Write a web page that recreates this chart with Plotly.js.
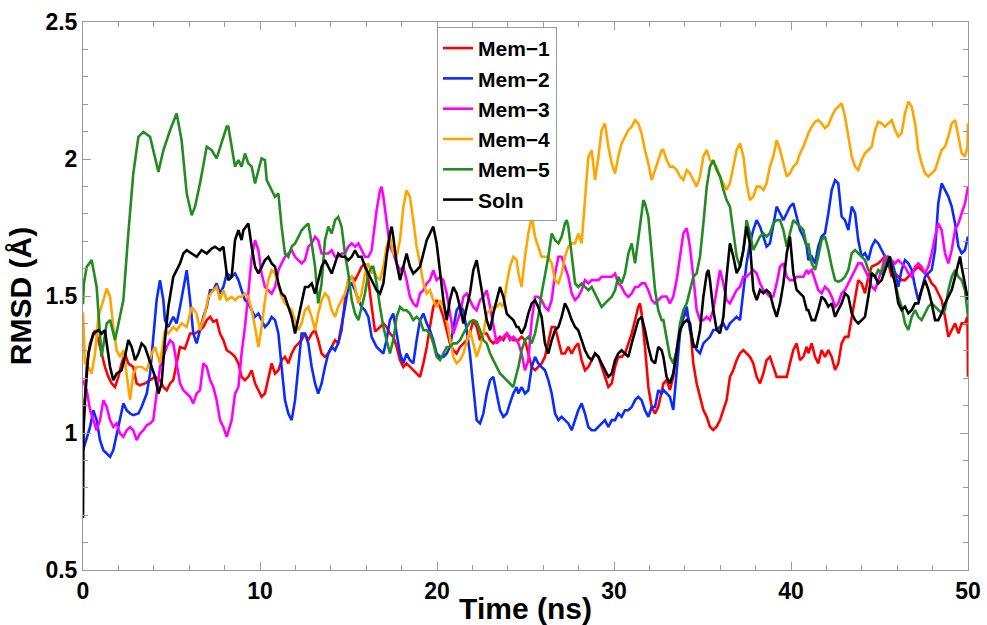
<!DOCTYPE html>
<html>
<head>
<meta charset="utf-8">
<script src="https://cdn.plot.ly/plotly-3.0.1.min.js"></script>
<style>html,body{margin:0;padding:0;background:#fff;}</style>
</head>
<body>
<div id="chart" style="width:987px;height:625px;"></div>
<script>
// [time (ns), RMSD (Å)] readings per simulation
const mem1 = [[0,0.998],[0.21,1.241],[0.40,1.327],[0.68,1.375],[0.87,1.339],[1.05,1.290],[1.24,1.241],[1.43,1.205],[1.62,1.181],[1.81,1.168],[2.00,1.205],[2.18,1.254],[2.37,1.290],[2.56,1.254],[2.84,1.241],[3.03,1.181],[3.22,1.174],[3.50,1.181],[3.79,1.193],[4.07,1.205],[4.35,1.193],[4.54,1.168],[4.73,1.156],[4.92,1.181],[5.10,1.193],[5.29,1.254],[5.48,1.314],[5.76,1.308],[6.05,1.363],[6.33,1.363],[6.61,1.375],[6.80,1.387],[6.99,1.412],[7.18,1.424],[7.36,1.406],[7.55,1.412],[7.74,1.363],[7.93,1.339],[8.12,1.302],[8.40,1.290],[8.59,1.278],[8.78,1.254],[8.96,1.205],[9.15,1.193],[9.34,1.205],[9.53,1.229],[9.72,1.181],[9.91,1.156],[10.09,1.132],[10.28,1.144],[10.47,1.205],[10.66,1.254],[10.85,1.217],[11.04,1.229],[11.22,1.266],[11.41,1.278],[11.60,1.254],[11.79,1.290],[11.98,1.314],[12.17,1.327],[12.35,1.339],[12.54,1.363],[12.73,1.339],[12.92,1.363],[13.11,1.375],[13.29,1.339],[13.48,1.290],[13.67,1.278],[13.86,1.290],[14.05,1.314],[14.24,1.339],[14.42,1.327],[14.61,1.375],[14.80,1.485],[14.99,1.558],[15.18,1.570],[15.37,1.558],[15.56,1.582],[15.74,1.607],[15.93,1.619],[16.12,1.560],[16.31,1.460],[16.50,1.370],[16.78,1.387],[16.97,1.400],[17.15,1.387],[17.34,1.363],[17.53,1.351],[17.72,1.314],[17.91,1.266],[18.10,1.241],[18.28,1.254],[18.47,1.241],[18.66,1.229],[18.85,1.217],[19.04,1.205],[19.23,1.254],[19.42,1.314],[19.60,1.387],[19.79,1.460],[19.98,1.485],[20.17,1.460],[20.36,1.424],[20.55,1.375],[20.73,1.327],[20.92,1.302],[21.11,1.290],[21.30,1.314],[21.49,1.327],[21.68,1.339],[21.86,1.363],[22.05,1.412],[22.24,1.387],[22.43,1.339],[22.62,1.363],[22.81,1.363],[23.00,1.339],[23.18,1.327],[23.37,1.339],[23.56,1.351],[23.75,1.339],[23.94,1.363],[24.12,1.351],[24.31,1.339],[24.50,1.339],[24.60,1.339],[24.78,1.351],[24.97,1.339],[25.16,1.290],[25.35,1.241],[25.54,1.229],[25.72,1.241],[25.91,1.254],[26.10,1.278],[26.29,1.339],[26.48,1.387],[26.67,1.387],[26.86,1.339],[27.04,1.290],[27.23,1.290],[27.42,1.314],[27.61,1.290],[27.80,1.314],[27.98,1.327],[28.17,1.266],[28.36,1.229],[28.55,1.241],[28.74,1.266],[28.93,1.290],[29.12,1.278],[29.30,1.241],[29.49,1.205],[29.68,1.168],[29.87,1.181],[30.06,1.241],[30.24,1.278],[30.43,1.278],[30.62,1.290],[30.81,1.327],[31.00,1.363],[31.19,1.412],[31.37,1.460],[31.47,1.473],[31.56,1.436],[31.75,1.314],[31.94,1.168],[32.13,1.095],[32.32,1.071],[32.50,1.095],[32.69,1.144],[32.79,1.180],[32.97,1.193],[33.16,1.157],[33.35,1.205],[33.54,1.303],[33.73,1.376],[33.92,1.424],[34.11,1.437],[34.29,1.400],[34.48,1.254],[34.67,1.181],[34.86,1.132],[35.05,1.084],[35.24,1.059],[35.42,1.023],[35.61,1.011],[35.80,1.023],[35.99,1.047],[36.18,1.084],[36.36,1.120],[36.55,1.205],[36.74,1.230],[36.93,1.266],[37.12,1.291],[37.31,1.303],[37.49,1.291],[37.68,1.278],[37.87,1.254],[38.06,1.205],[38.25,1.181],[38.44,1.218],[38.62,1.266],[38.81,1.278],[39.00,1.242],[39.19,1.205],[39.38,1.205],[39.57,1.205],[39.76,1.205],[39.94,1.254],[40.13,1.303],[40.32,1.327],[40.51,1.266],[40.70,1.278],[40.89,1.315],[40.98,1.291],[41.17,1.327],[41.36,1.278],[41.54,1.254],[41.73,1.303],[41.92,1.278],[42.11,1.303],[42.30,1.278],[42.49,1.230],[42.67,1.254],[42.86,1.327],[43.05,1.351],[43.24,1.351],[43.43,1.424],[43.62,1.498],[43.80,1.558],[43.99,1.546],[44.18,1.510],[44.37,1.570],[44.56,1.607],[44.75,1.613],[44.93,1.619],[45.12,1.631],[45.31,1.644],[45.50,1.619],[45.69,1.570],[45.88,1.583],[46.06,1.570],[46.25,1.558],[46.44,1.558],[46.63,1.570],[46.82,1.583],[47.01,1.595],[47.19,1.607],[47.38,1.595],[47.57,1.583],[47.76,1.570],[47.95,1.546],[48.14,1.534],[48.32,1.510],[48.51,1.485],[48.70,1.424],[48.89,1.351],[49.08,1.376],[49.27,1.400],[49.46,1.364],[49.64,1.400],[49.83,1.400],[49.97,1.424],[50,1.205]];

const mem2 = [[0,0.937],[0.21,0.986],[0.40,1.022],[0.58,1.083],[0.77,1.047],[0.96,0.974],[1.15,0.937],[1.34,0.925],[1.53,0.913],[1.71,0.937],[1.90,0.998],[2.09,1.047],[2.28,1.108],[2.47,1.083],[2.66,1.071],[2.84,1.065],[3.13,1.071],[3.31,1.095],[3.60,1.144],[3.79,1.217],[3.97,1.363],[4.16,1.485],[4.35,1.558],[4.54,1.485],[4.63,1.412],[4.82,1.387],[5.10,1.424],[5.29,1.400],[5.48,1.460],[5.67,1.533],[5.86,1.594],[6.05,1.485],[6.23,1.363],[6.42,1.327],[6.61,1.375],[6.80,1.424],[6.99,1.460],[7.18,1.521],[7.36,1.521],[7.55,1.546],[7.74,1.509],[7.93,1.533],[8.12,1.582],[8.40,1.570],[8.59,1.582],[8.78,1.558],[8.96,1.521],[9.15,1.485],[9.34,1.473],[9.53,1.448],[9.72,1.424],[9.91,1.436],[10.09,1.412],[10.28,1.387],[10.47,1.400],[10.66,1.424],[10.85,1.412],[11.04,1.363],[11.22,1.241],[11.41,1.120],[11.60,1.071],[11.79,1.047],[11.98,1.120],[12.17,1.254],[12.35,1.363],[12.54,1.363],[12.73,1.327],[12.92,1.241],[13.11,1.181],[13.29,1.144],[13.48,1.181],[13.67,1.241],[13.86,1.290],[14.05,1.314],[14.24,1.302],[14.42,1.327],[14.61,1.387],[14.80,1.460],[14.99,1.533],[15.18,1.546],[15.37,1.521],[15.56,1.485],[15.74,1.460],[15.93,1.448],[16.12,1.424],[16.31,1.350],[16.59,1.314],[16.78,1.302],[16.97,1.290],[17.15,1.339],[17.34,1.412],[17.53,1.436],[17.72,1.363],[17.91,1.290],[18.10,1.254],[18.28,1.290],[18.47,1.266],[18.66,1.254],[18.85,1.339],[19.04,1.412],[19.23,1.436],[19.42,1.400],[19.60,1.375],[19.79,1.339],[19.98,1.290],[20.17,1.278],[20.36,1.278],[20.55,1.290],[20.73,1.314],[20.92,1.387],[21.11,1.448],[21.30,1.467],[21.49,1.448],[21.68,1.375],[21.86,1.290],[22.05,1.168],[22.24,1.047],[22.43,1.035],[22.62,1.071],[22.81,1.144],[23.00,1.193],[23.18,1.205],[23.37,1.144],[23.56,1.083],[23.75,1.059],[23.94,1.071],[24.12,1.108],[24.31,1.144],[24.50,1.168],[24.60,1.144],[24.78,1.168],[24.97,1.144],[25.16,1.156],[25.35,1.241],[25.54,1.278],[25.72,1.254],[25.91,1.241],[26.10,1.229],[26.29,1.193],[26.48,1.144],[26.67,1.071],[26.86,1.047],[27.04,1.059],[27.23,1.047],[27.42,1.035],[27.61,1.010],[27.80,1.047],[27.98,1.083],[28.17,1.108],[28.36,1.071],[28.55,1.022],[28.74,1.010],[28.93,1.010],[29.12,1.022],[29.30,1.035],[29.49,1.047],[29.68,1.022],[29.87,1.047],[30.06,1.047],[30.24,1.071],[30.43,1.059],[30.62,1.083],[30.81,1.083],[31.00,1.095],[31.19,1.120],[31.37,1.132],[31.56,1.120],[31.75,1.083],[31.94,1.059],[32.13,1.095],[32.32,1.095],[32.50,1.156],[32.69,1.144],[32.79,1.157],[32.97,1.145],[33.16,1.132],[33.35,1.084],[33.54,1.218],[33.73,1.364],[33.92,1.424],[34.11,1.461],[34.29,1.376],[34.48,1.327],[34.67,1.303],[34.86,1.291],[35.05,1.327],[35.24,1.339],[35.42,1.351],[35.61,1.376],[35.80,1.376],[35.99,1.388],[36.18,1.400],[36.36,1.376],[36.55,1.400],[36.74,1.412],[36.93,1.424],[37.12,1.412],[37.31,1.522],[37.49,1.619],[37.68,1.692],[37.87,1.741],[38.06,1.777],[38.25,1.753],[38.44,1.717],[38.62,1.680],[38.81,1.692],[39.00,1.765],[39.19,1.826],[39.38,1.802],[39.57,1.777],[39.76,1.802],[39.94,1.826],[40.13,1.838],[40.32,1.790],[40.51,1.741],[40.70,1.717],[40.89,1.680],[40.98,1.631],[41.17,1.644],[41.36,1.619],[41.54,1.680],[41.73,1.717],[41.92,1.729],[42.11,1.802],[42.30,1.887],[42.49,1.923],[42.67,1.911],[42.86,1.790],[43.05,1.777],[43.24,1.741],[43.43,1.826],[43.62,1.802],[43.80,1.704],[43.99,1.644],[44.18,1.656],[44.37,1.631],[44.56,1.680],[44.75,1.704],[44.93,1.692],[45.12,1.668],[45.31,1.644],[45.50,1.607],[45.69,1.631],[45.88,1.583],[46.06,1.534],[46.25,1.595],[46.44,1.631],[46.63,1.619],[46.82,1.595],[47.01,1.534],[47.19,1.485],[47.38,1.522],[47.57,1.570],[47.76,1.583],[47.95,1.595],[48.14,1.668],[48.32,1.838],[48.51,1.911],[48.70,1.887],[48.89,1.863],[49.08,1.826],[49.27,1.765],[49.46,1.680],[49.64,1.656],[49.83,1.668],[50,1.717]];

const mem3 = [[0,1.193],[0.21,1.156],[0.40,1.083],[0.58,1.047],[0.77,1.010],[0.96,1.047],[1.15,1.120],[1.34,1.095],[1.53,1.047],[1.71,1.022],[1.90,1.035],[2.09,0.998],[2.28,0.986],[2.47,1.010],[2.66,1.022],[2.84,1.010],[3.03,0.974],[3.22,0.998],[3.41,1.010],[3.60,1.028],[3.79,1.035],[3.97,1.047],[4.16,1.156],[4.35,1.241],[4.54,1.278],[4.73,1.314],[4.92,1.339],[5.10,1.327],[5.29,1.254],[5.48,1.181],[5.67,1.156],[5.86,1.144],[6.05,1.132],[6.23,1.108],[6.42,1.144],[6.61,1.156],[6.80,1.254],[6.99,1.241],[7.18,1.193],[7.36,1.168],[7.55,1.120],[7.74,1.047],[7.93,1.022],[8.12,0.986],[8.40,1.047],[8.59,1.144],[8.78,1.168],[8.96,1.290],[9.15,1.387],[9.34,1.509],[9.53,1.643],[9.72,1.704],[9.91,1.667],[10.09,1.582],[10.28,1.533],[10.47,1.521],[10.66,1.509],[10.85,1.533],[11.04,1.594],[11.22,1.619],[11.41,1.643],[11.60,1.655],[11.79,1.667],[11.98,1.643],[12.17,1.631],[12.35,1.619],[12.54,1.631],[12.73,1.680],[12.92,1.692],[13.11,1.716],[13.29,1.704],[13.48,1.655],[13.67,1.655],[13.86,1.655],[14.05,1.667],[14.24,1.643],[14.42,1.643],[14.61,1.655],[14.80,1.655],[14.99,1.680],[15.18,1.692],[15.37,1.680],[15.56,1.692],[15.74,1.667],[15.93,1.643],[16.12,1.643],[16.31,1.667],[16.40,1.716],[16.59,1.813],[16.78,1.886],[16.87,1.899],[16.97,1.862],[17.15,1.777],[17.34,1.680],[17.53,1.655],[17.72,1.619],[17.91,1.594],[18.10,1.607],[18.28,1.558],[18.47,1.497],[18.66,1.473],[18.85,1.460],[19.04,1.509],[19.23,1.521],[19.42,1.546],[19.60,1.558],[19.79,1.594],[19.98,1.558],[20.17,1.570],[20.36,1.558],[20.55,1.509],[20.73,1.436],[20.92,1.363],[21.11,1.400],[21.30,1.436],[21.49,1.497],[21.68,1.509],[21.86,1.485],[22.05,1.460],[22.24,1.448],[22.43,1.485],[22.62,1.497],[22.81,1.521],[23.00,1.460],[23.18,1.387],[23.37,1.327],[23.56,1.339],[23.75,1.351],[23.94,1.363],[24.12,1.339],[24.31,1.351],[24.50,1.339],[24.60,1.327],[24.78,1.290],[24.97,1.229],[25.16,1.266],[25.35,1.412],[25.54,1.497],[25.72,1.497],[25.91,1.485],[26.10,1.460],[26.29,1.448],[26.48,1.485],[26.67,1.582],[26.86,1.643],[27.04,1.643],[27.23,1.607],[27.42,1.570],[27.61,1.509],[27.80,1.485],[27.98,1.497],[28.17,1.521],[28.36,1.558],[28.55,1.546],[28.74,1.558],[28.93,1.558],[29.12,1.558],[29.30,1.570],[29.49,1.570],[29.68,1.570],[29.87,1.570],[30.06,1.582],[30.24,1.546],[30.43,1.533],[30.62,1.509],[30.81,1.497],[31.00,1.509],[31.19,1.533],[31.37,1.533],[31.56,1.546],[31.75,1.546],[31.94,1.521],[32.13,1.485],[32.32,1.473],[32.50,1.485],[32.69,1.497],[32.79,1.498],[32.97,1.498],[33.16,1.473],[33.35,1.498],[33.54,1.558],[33.73,1.644],[33.92,1.729],[34.11,1.747],[34.29,1.680],[34.48,1.570],[34.67,1.449],[34.86,1.412],[35.05,1.412],[35.24,1.424],[35.42,1.412],[35.61,1.449],[35.80,1.522],[35.99,1.595],[36.18,1.546],[36.36,1.485],[36.55,1.473],[36.74,1.498],[36.93,1.522],[37.12,1.534],[37.31,1.570],[37.49,1.570],[37.68,1.583],[37.87,1.595],[38.06,1.583],[38.25,1.546],[38.44,1.522],[38.62,1.510],[38.81,1.498],[39.00,1.498],[39.19,1.546],[39.38,1.607],[39.57,1.619],[39.76,1.570],[39.94,1.558],[40.13,1.558],[40.32,1.570],[40.51,1.570],[40.70,1.570],[40.89,1.595],[40.98,1.583],[41.17,1.595],[41.36,1.558],[41.54,1.522],[41.73,1.510],[41.92,1.534],[42.11,1.522],[42.30,1.498],[42.49,1.461],[42.67,1.473],[42.86,1.510],[43.05,1.522],[43.24,1.546],[43.43,1.570],[43.62,1.595],[43.80,1.619],[43.99,1.619],[44.18,1.595],[44.37,1.570],[44.56,1.534],[44.75,1.522],[44.93,1.558],[45.12,1.595],[45.31,1.644],[45.50,1.644],[45.69,1.631],[45.88,1.619],[46.06,1.631],[46.25,1.619],[46.44,1.607],[46.63,1.583],[46.82,1.570],[47.01,1.607],[47.19,1.619],[47.38,1.607],[47.57,1.583],[47.76,1.607],[47.95,1.656],[48.14,1.717],[48.32,1.765],[48.51,1.741],[48.70,1.656],[48.89,1.619],[49.08,1.668],[49.27,1.741],[49.46,1.765],[49.64,1.802],[49.83,1.838],[50,1.899]];

const mem4 = [[0,1.440],[0.11,1.254],[0.30,1.241],[0.49,1.217],[0.68,1.290],[0.87,1.424],[1.15,1.485],[1.34,1.527],[1.53,1.497],[1.71,1.387],[1.90,1.302],[2.09,1.278],[2.28,1.302],[2.47,1.217],[2.66,1.120],[2.84,1.217],[3.03,1.241],[3.31,1.241],[3.60,1.229],[3.88,1.290],[4.07,1.314],[4.35,1.254],[4.63,1.375],[4.82,1.363],[5.10,1.387],[5.29,1.375],[5.57,1.400],[5.86,1.387],[6.14,1.460],[6.42,1.436],[6.61,1.375],[6.89,1.436],[7.08,1.497],[7.36,1.521],[7.55,1.533],[7.74,1.485],[7.93,1.521],[8.12,1.485],[8.40,1.497],[8.59,1.485],[8.78,1.497],[8.96,1.497],[9.15,1.509],[9.34,1.497],[9.53,1.448],[9.72,1.387],[9.91,1.314],[10.09,1.387],[10.28,1.485],[10.47,1.558],[10.66,1.594],[10.85,1.582],[11.04,1.533],[11.22,1.497],[11.41,1.473],[11.60,1.460],[11.79,1.448],[11.98,1.412],[12.17,1.375],[12.35,1.400],[12.54,1.448],[12.73,1.460],[12.92,1.424],[13.11,1.375],[13.29,1.436],[13.48,1.485],[13.67,1.509],[13.86,1.497],[14.05,1.448],[14.24,1.424],[14.42,1.460],[14.61,1.485],[14.80,1.509],[14.99,1.558],[15.18,1.570],[15.37,1.533],[15.56,1.473],[15.74,1.509],[15.93,1.582],[16.12,1.619],[16.31,1.582],[16.40,1.594],[16.59,1.570],[16.78,1.558],[16.97,1.607],[17.15,1.680],[17.34,1.716],[17.53,1.655],[17.72,1.643],[17.91,1.704],[18.10,1.826],[18.28,1.886],[18.47,1.862],[18.66,1.777],[18.85,1.680],[19.04,1.619],[19.23,1.546],[19.42,1.509],[19.60,1.521],[19.79,1.485],[19.98,1.460],[20.17,1.485],[20.36,1.460],[20.55,1.412],[20.73,1.351],[20.92,1.278],[21.11,1.254],[21.30,1.266],[21.49,1.290],[21.68,1.339],[21.86,1.375],[22.05,1.327],[22.24,1.278],[22.43,1.314],[22.62,1.363],[22.81,1.436],[23.00,1.448],[23.18,1.460],[23.37,1.460],[23.56,1.473],[23.75,1.460],[23.94,1.546],[24.12,1.607],[24.31,1.643],[24.50,1.631],[24.60,1.582],[24.78,1.533],[24.97,1.643],[25.16,1.728],[25.35,1.789],[25.54,1.716],[25.72,1.680],[25.91,1.643],[26.10,1.643],[26.29,1.643],[26.48,1.619],[26.67,1.558],[26.86,1.546],[27.04,1.582],[27.23,1.643],[27.42,1.680],[27.61,1.692],[27.80,1.692],[27.98,1.728],[28.17,1.692],[28.36,1.850],[28.55,2.008],[28.74,2.032],[28.93,1.923],[29.12,2.008],[29.30,2.105],[29.49,2.130],[29.68,2.045],[29.87,1.984],[30.06,1.947],[30.24,2.008],[30.43,2.057],[30.62,2.081],[30.81,2.105],[31.00,2.118],[31.19,2.142],[31.37,2.130],[31.56,2.093],[31.75,2.032],[31.94,1.984],[32.13,1.923],[32.32,1.959],[32.50,1.996],[32.69,2.032],[32.79,2.033],[32.97,1.996],[33.16,1.972],[33.35,1.972],[33.54,1.960],[33.73,1.936],[33.92,1.923],[34.11,1.960],[34.29,1.948],[34.48,1.923],[34.67,1.899],[34.86,1.936],[35.05,2.009],[35.24,2.033],[35.42,1.996],[35.61,1.984],[35.80,1.972],[35.99,1.936],[36.18,1.911],[36.36,1.887],[36.55,1.911],[36.74,1.972],[36.93,2.033],[37.12,2.057],[37.31,2.009],[37.49,1.911],[37.68,1.850],[37.87,1.863],[38.06,1.899],[38.25,1.899],[38.44,1.887],[38.62,1.911],[38.81,1.972],[39.00,2.009],[39.19,2.069],[39.38,2.033],[39.57,1.984],[39.76,1.936],[39.94,1.948],[40.13,1.972],[40.32,1.984],[40.51,2.021],[40.70,2.045],[40.89,2.082],[40.98,2.094],[41.17,2.118],[41.36,2.136],[41.54,2.142],[41.73,2.130],[41.92,2.112],[42.11,2.124],[42.30,2.155],[42.49,2.179],[42.67,2.191],[42.86,2.203],[43.05,2.155],[43.24,2.082],[43.43,2.009],[43.62,1.972],[43.80,1.960],[43.99,1.996],[44.18,2.021],[44.37,2.033],[44.56,2.045],[44.75,2.106],[44.93,2.136],[45.12,2.130],[45.31,2.118],[45.50,2.130],[45.69,2.142],[45.88,2.106],[46.06,2.082],[46.25,2.094],[46.44,2.167],[46.63,2.209],[46.82,2.191],[47.01,2.130],[47.19,2.033],[47.38,1.984],[47.57,1.948],[47.76,1.936],[47.95,1.948],[48.14,1.960],[48.32,1.996],[48.51,2.033],[48.70,2.045],[48.89,2.082],[49.08,2.130],[49.27,2.142],[49.46,2.082],[49.64,2.021],[49.83,2.009],[49.97,2.045],[50,2.130]];

const mem5 = [[0,1.470],[0.05,1.546],[0.21,1.607],[0.49,1.631],[0.77,1.533],[0.96,1.363],[1.05,1.278],[1.34,1.400],[1.53,1.412],[1.81,1.339],[2.28,1.485],[2.56,1.728],[2.84,1.947],[3.13,2.081],[3.41,2.099],[3.79,2.081],[4.26,1.953],[4.54,2.032],[4.92,2.105],[5.29,2.166],[5.57,2.069],[5.86,1.874],[6.14,1.795],[6.33,1.826],[6.61,1.911],[6.99,2.045],[7.27,2.032],[7.55,2.002],[7.83,2.057],[8.12,2.118],[8.21,2.118],[8.40,2.045],[8.59,1.972],[8.78,1.996],[8.96,1.972],[9.15,2.020],[9.34,1.984],[9.53,1.972],[9.72,1.911],[9.91,1.959],[10.09,2.002],[10.28,1.996],[10.38,1.923],[10.66,1.886],[10.85,1.862],[11.04,1.874],[11.22,1.753],[11.41,1.655],[11.60,1.643],[11.79,1.680],[11.98,1.692],[12.17,1.716],[12.35,1.740],[12.54,1.753],[12.73,1.765],[12.92,1.692],[13.11,1.607],[13.29,1.473],[13.48,1.546],[13.67,1.704],[13.86,1.753],[14.05,1.728],[14.24,1.777],[14.42,1.789],[14.61,1.753],[14.80,1.655],[14.99,1.582],[15.18,1.485],[15.37,1.436],[15.56,1.412],[15.74,1.460],[15.93,1.509],[16.12,1.582],[16.31,1.607],[16.40,1.607],[16.59,1.546],[16.78,1.460],[16.97,1.387],[17.15,1.339],[17.34,1.290],[17.53,1.339],[17.72,1.424],[17.91,1.460],[18.10,1.448],[18.28,1.448],[18.47,1.436],[18.66,1.412],[18.85,1.424],[19.04,1.412],[19.23,1.375],[19.42,1.375],[19.60,1.363],[19.79,1.327],[19.98,1.278],[20.17,1.266],[20.36,1.290],[20.55,1.314],[20.73,1.314],[20.92,1.327],[21.11,1.327],[21.30,1.339],[21.49,1.363],[21.68,1.387],[21.86,1.406],[22.05,1.412],[22.24,1.406],[22.43,1.375],[22.62,1.339],[22.81,1.327],[23.00,1.290],[23.18,1.266],[23.37,1.241],[23.56,1.217],[23.75,1.205],[23.94,1.193],[24.12,1.181],[24.31,1.168],[24.50,1.217],[24.60,1.241],[24.78,1.302],[24.97,1.339],[25.16,1.351],[25.35,1.327],[25.54,1.363],[25.72,1.424],[25.91,1.509],[26.10,1.570],[26.29,1.643],[26.48,1.728],[26.67,1.704],[26.86,1.692],[27.04,1.716],[27.23,1.765],[27.33,1.777],[27.42,1.753],[27.61,1.655],[27.80,1.546],[27.98,1.533],[28.17,1.546],[28.36,1.533],[28.55,1.521],[28.74,1.533],[28.93,1.509],[29.12,1.485],[29.30,1.460],[29.49,1.473],[29.68,1.485],[29.87,1.497],[30.06,1.521],[30.24,1.570],[30.43,1.546],[30.62,1.582],[30.81,1.655],[31.00,1.692],[31.19,1.619],[31.37,1.704],[31.56,1.813],[31.66,1.850],[31.75,1.838],[31.94,1.789],[32.13,1.655],[32.32,1.521],[32.50,1.448],[32.69,1.412],[32.79,1.412],[32.97,1.351],[33.16,1.278],[33.35,1.254],[33.54,1.303],[33.73,1.400],[33.92,1.449],[34.11,1.473],[34.29,1.522],[34.48,1.570],[34.67,1.583],[34.86,1.644],[35.05,1.765],[35.24,1.899],[35.42,1.972],[35.61,1.996],[35.80,1.960],[35.99,1.936],[36.18,1.887],[36.36,1.850],[36.55,1.826],[36.74,1.741],[36.93,1.644],[37.12,1.607],[37.31,1.668],[37.49,1.777],[37.68,1.729],[37.87,1.668],[38.06,1.692],[38.25,1.717],[38.44,1.729],[38.62,1.717],[38.81,1.729],[39.00,1.765],[39.19,1.777],[39.38,1.777],[39.57,1.741],[39.76,1.680],[39.94,1.729],[40.13,1.777],[40.32,1.765],[40.51,1.753],[40.70,1.741],[40.89,1.680],[40.98,1.692],[41.17,1.619],[41.36,1.595],[41.54,1.644],[41.73,1.704],[41.92,1.717],[42.11,1.668],[42.30,1.607],[42.49,1.558],[42.67,1.552],[42.86,1.558],[43.05,1.570],[43.24,1.595],[43.43,1.656],[43.62,1.668],[43.80,1.656],[43.99,1.644],[44.18,1.631],[44.37,1.595],[44.56,1.583],[44.75,1.570],[44.93,1.595],[45.12,1.583],[45.31,1.619],[45.50,1.644],[45.69,1.607],[45.88,1.546],[46.06,1.498],[46.25,1.461],[46.44,1.400],[46.63,1.376],[46.82,1.424],[47.01,1.449],[47.19,1.424],[47.38,1.412],[47.57,1.437],[47.76,1.461],[47.95,1.473],[48.14,1.461],[48.32,1.449],[48.51,1.437],[48.70,1.449],[48.89,1.522],[49.08,1.570],[49.27,1.595],[49.46,1.570],[49.64,1.558],[49.83,1.522],[50,1.424]];

const soln = [[0,0.690],[0.03,1.010],[0.11,1.120],[0.30,1.290],[0.58,1.363],[0.87,1.375],[1.05,1.363],[1.24,1.375],[1.34,1.327],[1.53,1.241],[1.71,1.193],[1.90,1.217],[2.18,1.229],[2.37,1.278],[2.56,1.339],[2.75,1.314],[2.94,1.266],[3.13,1.290],[3.31,1.327],[3.50,1.314],[3.69,1.278],[3.88,1.241],[4.07,1.205],[4.26,1.144],[4.44,1.181],[4.63,1.339],[4.82,1.460],[5.10,1.570],[5.29,1.594],[5.48,1.619],[5.67,1.655],[5.86,1.667],[6.14,1.655],[6.42,1.643],[6.70,1.667],[6.99,1.655],[7.27,1.673],[7.46,1.680],[7.74,1.667],[7.93,1.680],[8.12,1.582],[8.21,1.558],[8.40,1.570],[8.59,1.704],[8.78,1.740],[8.96,1.704],[9.06,1.740],[9.34,1.765],[9.53,1.680],[9.72,1.607],[9.91,1.582],[10.09,1.607],[10.28,1.631],[10.47,1.643],[10.66,1.619],[10.85,1.607],[11.04,1.546],[11.22,1.509],[11.41,1.497],[11.60,1.460],[11.79,1.424],[11.98,1.363],[12.17,1.424],[12.35,1.485],[12.54,1.533],[12.73,1.533],[12.92,1.546],[13.11,1.509],[13.29,1.558],[13.48,1.607],[13.67,1.631],[13.86,1.607],[14.05,1.582],[14.24,1.619],[14.42,1.655],[14.61,1.643],[14.80,1.643],[14.99,1.631],[15.18,1.643],[15.37,1.667],[15.56,1.643],[15.74,1.643],[15.93,1.607],[16.12,1.582],[16.31,1.558],[16.40,1.546],[16.59,1.521],[16.78,1.509],[16.97,1.546],[17.15,1.643],[17.34,1.728],[17.44,1.753],[17.53,1.716],[17.72,1.619],[17.91,1.558],[18.10,1.607],[18.28,1.655],[18.47,1.607],[18.66,1.582],[18.85,1.594],[19.04,1.607],[19.23,1.655],[19.42,1.704],[19.60,1.728],[19.79,1.753],[19.98,1.692],[20.17,1.582],[20.36,1.485],[20.55,1.412],[20.73,1.485],[20.92,1.533],[21.11,1.509],[21.30,1.460],[21.49,1.400],[21.68,1.460],[21.86,1.509],[22.05,1.594],[22.24,1.631],[22.43,1.558],[22.62,1.485],[22.81,1.412],[23.00,1.375],[23.18,1.436],[23.37,1.485],[23.56,1.533],[23.75,1.497],[23.94,1.436],[24.12,1.424],[24.31,1.412],[24.50,1.387],[24.60,1.387],[24.78,1.363],[24.97,1.387],[25.16,1.436],[25.35,1.473],[25.54,1.485],[25.72,1.460],[25.91,1.424],[26.10,1.327],[26.29,1.290],[26.48,1.339],[26.67,1.375],[26.86,1.387],[27.04,1.424],[27.23,1.473],[27.42,1.448],[27.61,1.412],[27.80,1.387],[27.98,1.375],[28.17,1.339],[28.36,1.302],[28.55,1.278],[28.74,1.266],[28.93,1.290],[29.12,1.278],[29.30,1.254],[29.49,1.229],[29.68,1.205],[29.87,1.217],[30.06,1.266],[30.24,1.290],[30.43,1.302],[30.62,1.290],[30.81,1.278],[31.00,1.327],[31.19,1.375],[31.37,1.412],[31.56,1.424],[31.75,1.375],[31.94,1.314],[32.13,1.266],[32.32,1.254],[32.50,1.314],[32.69,1.302],[32.79,1.278],[32.97,1.205],[33.16,1.181],[33.35,1.218],[33.54,1.303],[33.73,1.376],[33.92,1.400],[34.11,1.412],[34.29,1.400],[34.48,1.315],[34.67,1.315],[34.86,1.376],[35.05,1.498],[35.24,1.583],[35.33,1.595],[35.42,1.558],[35.61,1.449],[35.80,1.376],[35.99,1.364],[36.18,1.424],[36.36,1.570],[36.55,1.692],[36.74,1.644],[36.93,1.583],[37.12,1.607],[37.31,1.668],[37.49,1.753],[37.68,1.692],[37.87,1.522],[38.06,1.485],[38.25,1.522],[38.44,1.510],[38.62,1.522],[38.81,1.510],[39.00,1.461],[39.19,1.424],[39.38,1.473],[39.57,1.546],[39.76,1.656],[39.94,1.717],[40.13,1.583],[40.32,1.522],[40.51,1.510],[40.70,1.498],[40.89,1.449],[40.98,1.449],[41.17,1.412],[41.36,1.412],[41.54,1.449],[41.73,1.498],[41.92,1.485],[42.11,1.461],[42.30,1.473],[42.49,1.424],[42.67,1.449],[42.86,1.473],[43.05,1.510],[43.24,1.498],[43.43,1.437],[43.62,1.412],[43.80,1.400],[43.99,1.412],[44.18,1.424],[44.37,1.498],[44.56,1.583],[44.75,1.570],[44.93,1.546],[45.12,1.558],[45.31,1.595],[45.50,1.631],[45.59,1.644],[45.69,1.595],[45.88,1.546],[46.06,1.473],[46.25,1.449],[46.44,1.461],[46.63,1.437],[46.82,1.449],[47.01,1.473],[47.19,1.473],[47.38,1.522],[47.57,1.558],[47.76,1.522],[47.95,1.473],[48.14,1.412],[48.32,1.412],[48.51,1.437],[48.70,1.473],[48.89,1.498],[49.08,1.522],[49.27,1.570],[49.46,1.619],[49.55,1.644],[49.64,1.607],[49.83,1.546],[50,1.485]];

const seriesNames = ['Mem\u22121', 'Mem\u22122', 'Mem\u22123', 'Mem\u22124', 'Mem\u22125', 'Soln'];
const seriesData = [mem1, mem2, mem3, mem4, mem5, soln];
const seriesColors = ['#ff0000', '#0a2cff', '#ff00ff', '#ffa500', '#228b22', '#000000'];

const traces = seriesData.map((d, i) => ({
  type: 'scatter',
  mode: 'lines',
  name: seriesNames[i],
  x: d.map(p => p[0]),
  y: d.map(p => p[1]),
  line: { color: seriesColors[i], width: 2.6 },
  hoverinfo: 'skip'
}));

const fontFam = 'Liberation Sans, Arial, Helvetica, sans-serif';
const axisCommon = {
  ticks: 'inside',
  ticklen: 8,
  tickwidth: 1,
  tickcolor: '#9a9a9a',
  showline: true,
  linecolor: '#9a9a9a',
  linewidth: 1,
  mirror: 'allticks',
  showgrid: false,
  zeroline: false,
  tickfont: { family: fontFam, size: 23, color: '#000', weight: 'bold' },
  automargin: false
};

const layout = {
  width: 987,
  height: 625,
  margin: { l: 83, r: 19, t: 22, b: 55 },
  paper_bgcolor: '#ffffff',
  plot_bgcolor: '#ffffff',
  font: { family: fontFam, color: '#000' },
  showlegend: true,
  legend: {
    x: 0.4, y: 0.991, xanchor: 'left', yanchor: 'top',
    bordercolor: '#9a9a9a', borderwidth: 1, bgcolor: '#ffffff',
    font: { family: fontFam, size: 21, color: '#000', weight: 'bold' },
    traceorder: 'normal'
  },
  xaxis: Object.assign({}, axisCommon, {
    range: [0, 50], tick0: 0, dtick: 10,
    minor: { dtick: 2, ticks: 'inside', ticklen: 5, tickcolor: '#9a9a9a' },
    title: { text: 'Time (ns)', font: { family: fontFam, size: 30, color: '#000', weight: 'bold' }, standoff: 0 }
  }),
  yaxis: Object.assign({}, axisCommon, {
    range: [0.5, 2.5], tick0: 0.5, dtick: 0.5,
    minor: { dtick: 0.1, ticks: 'inside', ticklen: 5, tickcolor: '#9a9a9a' },
    title: { text: 'RMSD (Å)', font: { family: fontFam, size: 30, color: '#000', weight: 'bold' }, standoff: 4 }
  })
};

Plotly.newPlot('chart', traces, layout, { displayModeBar: false, staticPlot: true });
</script>
</body>
</html>
